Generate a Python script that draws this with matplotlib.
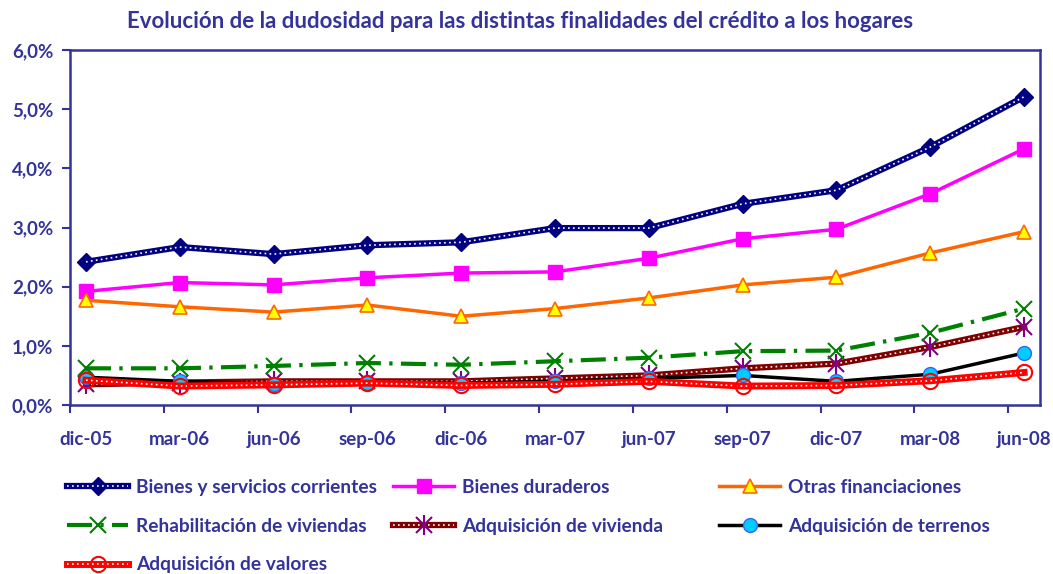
import matplotlib
matplotlib.use("Agg")
import matplotlib.pyplot as plt
from matplotlib.legend_handler import HandlerTuple
from matplotlib.ticker import FuncFormatter, FixedLocator

# Data (% of doubtful loans)
fechas = ["dic-05", "mar-06", "jun-06", "sep-06", "dic-06", "mar-07",
          "jun-07", "sep-07", "dic-07", "mar-08", "jun-08"]
bienes_servicios = [2.42, 2.67, 2.55, 2.70, 2.75, 2.99, 2.99, 3.40, 3.63, 4.36, 5.21]
bienes_duraderos = [1.92, 2.07, 2.03, 2.15, 2.23, 2.25, 2.48, 2.81, 2.97, 3.57, 4.33]
otras_financiaciones = [1.77, 1.66, 1.57, 1.69, 1.50, 1.63, 1.81, 2.03, 2.16, 2.57, 2.93]
rehabilitacion = [0.62, 0.62, 0.66, 0.71, 0.68, 0.74, 0.80, 0.91, 0.92, 1.22, 1.63]
adq_vivienda = [0.35, 0.38, 0.40, 0.40, 0.40, 0.45, 0.50, 0.62, 0.70, 0.98, 1.32]
adq_terrenos = [0.47, 0.40, 0.36, 0.38, 0.37, 0.40, 0.45, 0.50, 0.40, 0.52, 0.88]
adq_valores = [0.42, 0.32, 0.34, 0.37, 0.33, 0.35, 0.40, 0.32, 0.33, 0.41, 0.55]

azul = "#333399"
plt.rcParams['font.family'] = ['Lato', 'DejaVu Sans']

fig = plt.figure(figsize=(10.53, 5.74), dpi=100)
ax = fig.add_axes([0.0665, 0.2944, 0.9212, 0.6185])

# points sit a bit to the right of each tick (date axis)
x = [i + 0.17 for i in range(len(fechas))]

h_bs = ax.plot(x, bienes_servicios, color="#000080", lw=4.5, marker="D", ms=9,
               mfc="#000080", mec="#000080", zorder=5)[0]
h_bs2 = ax.plot(x, bienes_servicios, color="white", lw=1.2, ls=(0, (1, 2)), zorder=6)[0]

h_bd = ax.plot(x, bienes_duraderos, color="#ff00ff", lw=2.5, marker="s", ms=10,
               mfc="#ff00ff", mec="#ff00ff", zorder=5)[0]

h_ot = ax.plot(x, otras_financiaciones, color="#ff6600", lw=2.5, marker="^", ms=10,
               mfc="#ffff00", mec="#ff6600", mew=1.2, zorder=5)[0]

h_re = ax.plot(x, rehabilitacion, color="#008000", lw=3, ls=(0, (6, 2, 0.8, 2)),
               marker="x", ms=11, mec="#008000", mew=1.5, zorder=5)[0]

h_vi = ax.plot(x, adq_vivienda, color="#800000", lw=4.5, zorder=4)[0]
h_vi2 = ax.plot(x, adq_vivienda, color="white", lw=1.2, ls=(0, (1, 2)), zorder=4.1)[0]
h_vi3 = ax.plot(x, adq_vivienda, ls="none", marker="x", ms=11, mec="#800080",
                mew=1.5, zorder=4.2)[0]
h_vi4 = ax.plot(x, adq_vivienda, ls="none", marker="|", ms=14, mec="#800080",
                mew=1.5, zorder=4.2)[0]

h_te = ax.plot(x, adq_terrenos, color="black", lw=2.5, marker="o", ms=10,
               mfc="#00ccff", mec="#3366ff", mew=1, zorder=4.5)[0]

h_va = ax.plot(x, adq_valores, color="#ff0000", lw=5, zorder=5)[0]
h_va2 = ax.plot(x, adq_valores, color="white", lw=1.2, ls=(0, (1, 2)), zorder=5.1)[0]
h_va3 = ax.plot(x, adq_valores, ls="none", marker="o", ms=11, mfc="none", mec="#ff0000",
                mew=1.5, zorder=5.2)[0]

ax.set_ylim(0, 6)
ax.set_xlim(0, 10.34)
ax.yaxis.set_major_locator(FixedLocator([0, 1, 2, 3, 4, 5, 6]))
ax.yaxis.set_major_formatter(FuncFormatter(lambda v, p: f"{v:.1f}%".replace(".", ",")))
ax.xaxis.set_major_locator(FixedLocator(list(range(len(fechas)))))
ax.xaxis.set_major_formatter(FuncFormatter(lambda v, p: ""))
ax.xaxis.set_minor_locator(FixedLocator(x))
ax.set_xticklabels(fechas, minor=True)
ax.tick_params(axis="x", which="minor", length=0, pad=19)
ax.tick_params(axis="both", which="major", length=6, width=1.5, color=azul,
               direction="out")
ax.tick_params(axis="y", pad=6)
for lab in ax.get_xticklabels(minor=True) + ax.get_yticklabels():
    lab.set_fontweight("bold")
    lab.set_color(azul)
    lab.set_fontsize(13.5)
for s in ax.spines.values():
    s.set_color(azul)
    s.set_linewidth(1.8)

fig.text(0.494, 0.962, "Evolución de la dudosidad para las distintas finalidades del crédito a los hogares",
         ha="center", va="center", fontsize=16, fontweight="bold", color=azul)

# legend: three equal-width columns, like the original
columnas = [
    ([(h_bs, h_bs2), (h_re,), (h_va, h_va2, h_va3)],
     ["Bienes y servicios corrientes", "Rehabilitación de viviendas", "Adquisición de valores"]),
    ([(h_bd,), (h_vi, h_vi2, h_vi3, h_vi4)],
     ["Bienes duraderos", "Adquisición de vivienda"]),
    ([(h_ot,), (h_te,)],
     ["Otras financiaciones", "Adquisición de terrenos"]),
]
x_col = [67, 393, 719]
for (hs, ls), xc in zip(columnas, x_col):
    leg = fig.legend(hs, ls, loc="upper left", bbox_to_anchor=(xc / 1053, 1 - 479 / 574),
                     frameon=False, borderpad=0, borderaxespad=0,
                     handler_map={tuple: HandlerTuple(ndivide=1, pad=0)},
                     handlelength=3.2, labelspacing=1.13, handletextpad=0.4,
                     prop={"weight": "bold", "size": 13.8})
    for t in leg.get_texts():
        t.set_color(azul)

fig.savefig("out.png", dpi=100)
